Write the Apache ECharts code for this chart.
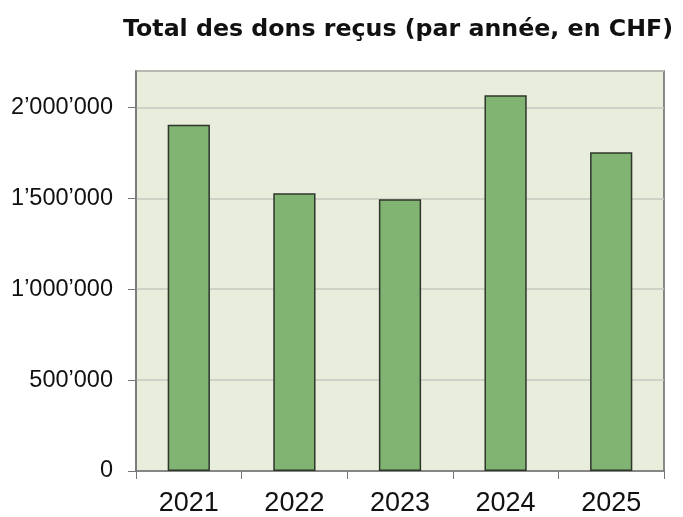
<!DOCTYPE html>
<html>
<head>
<meta charset="utf-8">
<script src="https://cdn.jsdelivr.net/npm/echarts@6/dist/echarts.min.js"></script>
<style>
  html, body { margin: 0; padding: 0; background: #fff; }
  #chart { width: 683px; height: 517px; }
</style>
</head>
<body>
<div id="chart"></div>
<script>
// données
const years = ['2021', '2022', '2023', '2024', '2025'];
const dons = [1905000, 1527000, 1495000, 2067000, 1753000];
const yTicks = [0, 500000, 1000000, 1500000, 2000000];

const fmt = v => String(v).replace(/\B(?=(\d{3})+(?!\d))/g, '\u2019');

const myChart = echarts.init(document.getElementById('chart'));
const option = {
  backgroundColor: '#fff',
  title: {
    text: 'Total des dons reçus (par année, en CHF)',
    left: 393,
    textAlign: 'center',
    top: 13,
    textStyle: { fontFamily: 'DejaVu Sans', fontWeight: 'bold', fontSize: 23.7, color: '#111' }
  },
  grid: {
    left: 136, top: 71, right: 19, bottom: 45,
    show: true,
    backgroundColor: '#e9eddb',
    borderColor: '#666',
    borderWidth: 1.5
  },
  xAxis: {
    type: 'category',
    data: years,
    axisLine: { lineStyle: { color: '#777', width: 1.5 } },
    axisTick: { show: true, length: 8, lineStyle: { color: '#777' } },
    axisLabel: { fontFamily: 'Liberation Sans', fontSize: 27, color: '#111', margin: 19 }
  },
  yAxis: {
    type: 'value',
    min: yTicks[0],
    max: 2200000,
    interval: 500000,
    axisLine: { show: true, lineStyle: { color: '#777', width: 1.5 } },
    axisTick: { show: true, length: 8, lineStyle: { color: '#777' } },
    splitLine: { lineStyle: { color: '#c6c8c0', width: 1.5 } },
    axisLabel: {
      fontFamily: 'Liberation Sans', fontSize: 23.5, color: '#111', margin: 23,
      showMaxLabel: false,
      formatter: v => (yTicks.indexOf(v) >= 0 ? fmt(v) : '')
    }
  },
  series: [{
    type: 'bar',
    data: dons,
    barWidth: '40%',
    itemStyle: { color: '#81b472', borderColor: '#2e362c', borderWidth: 1.5 }
  }]
};
myChart.setOption(option);
</script>
</body>
</html>
